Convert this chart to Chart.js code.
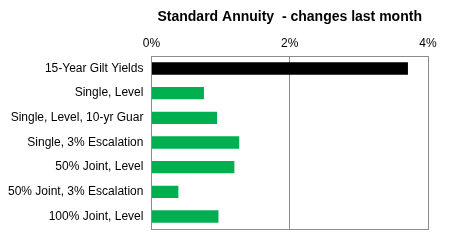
<!DOCTYPE html>
<html>
<head>
<meta charset="utf-8">
<script src="https://cdn.jsdelivr.net/npm/chart.js@4"></script>
<style>
  html, body { margin: 0; padding: 0; background: #fff; }
  #wrap { width: 450px; height: 244px; }
</style>
</head>
<body>
<div id="wrap"><canvas id="myChart"></canvas></div>
<script>
// data
const labels = [
  "15-Year Gilt Yields",
  "Single, Level",
  "Single, Level, 10-yr Guar",
  "Single, 3% Escalation",
  "50% Joint, Level",
  "50% Joint, 3% Escalation",
  "100% Joint, Level",
];
const changes = [3.71, 0.76, 0.95, 1.27, 1.2, 0.39, 0.97];
const barColours = ["#000000", "#00b050", "#00b050", "#00b050", "#00b050", "#00b050", "#00b050"];
const tickValues = [0, 2, 4];

// box round the plot area
const plotBox = {
  id: "plotBox",
  afterDraw(chart) {
    const a = chart.chartArea;
    const c = chart.ctx;
    c.save();
    c.strokeStyle = "#8c8c8c";
    c.lineWidth = 1;
    c.strokeRect(Math.round(a.left) + 0.5, Math.round(a.top) + 0.5,
      Math.round(a.right - a.left), Math.round(a.bottom - a.top));
    c.restore();
  },
};

const ctx = document.getElementById("myChart");
new Chart(ctx, {
  type: "bar",
  data: {
    labels: labels,
    datasets: [
      {
        data: changes,
        backgroundColor: barColours,
        borderWidth: 0,
        barPercentage: 0.5,
        categoryPercentage: 1,
      },
    ],
  },
  plugins: [plotBox],
  options: {
    indexAxis: "y",
    responsive: true,
    maintainAspectRatio: false,
    animation: false,
    layout: { padding: { top: 9, right: 22, bottom: 6, left: 0 } },
    plugins: { legend: { display: false }, tooltip: { enabled: false } },
    scales: {
      x: {
        position: "top",
        min: 0,
        max: 4,
        afterBuildTicks: (axis) => {
          axis.ticks = tickValues.map((v) => ({ value: v }));
        },
        grid: { color: "#8c8c8c", drawTicks: false },
        border: { color: "#8c8c8c" },
        ticks: {
          color: "#000",
          font: { family: "Liberation Sans, Arial", size: 12 },
          padding: 5,
          callback: (v) => v + "%",
        },
        title: {
          display: true,
          text: "Standard Annuity  - changes last month",
          color: "#000",
          font: { family: "Liberation Sans, Arial", size: 14, weight: "bold" },
          padding: { top: 0, bottom: 6 },
        },
      },
      y: {
        grid: { display: false, drawTicks: false },
        border: { color: "#8c8c8c" },
        ticks: {
          color: "#000",
          font: { family: "Liberation Sans, Arial", size: 12 },
          padding: 8,
        },
      },
    },
  },
});
</script>
</body>
</html>
